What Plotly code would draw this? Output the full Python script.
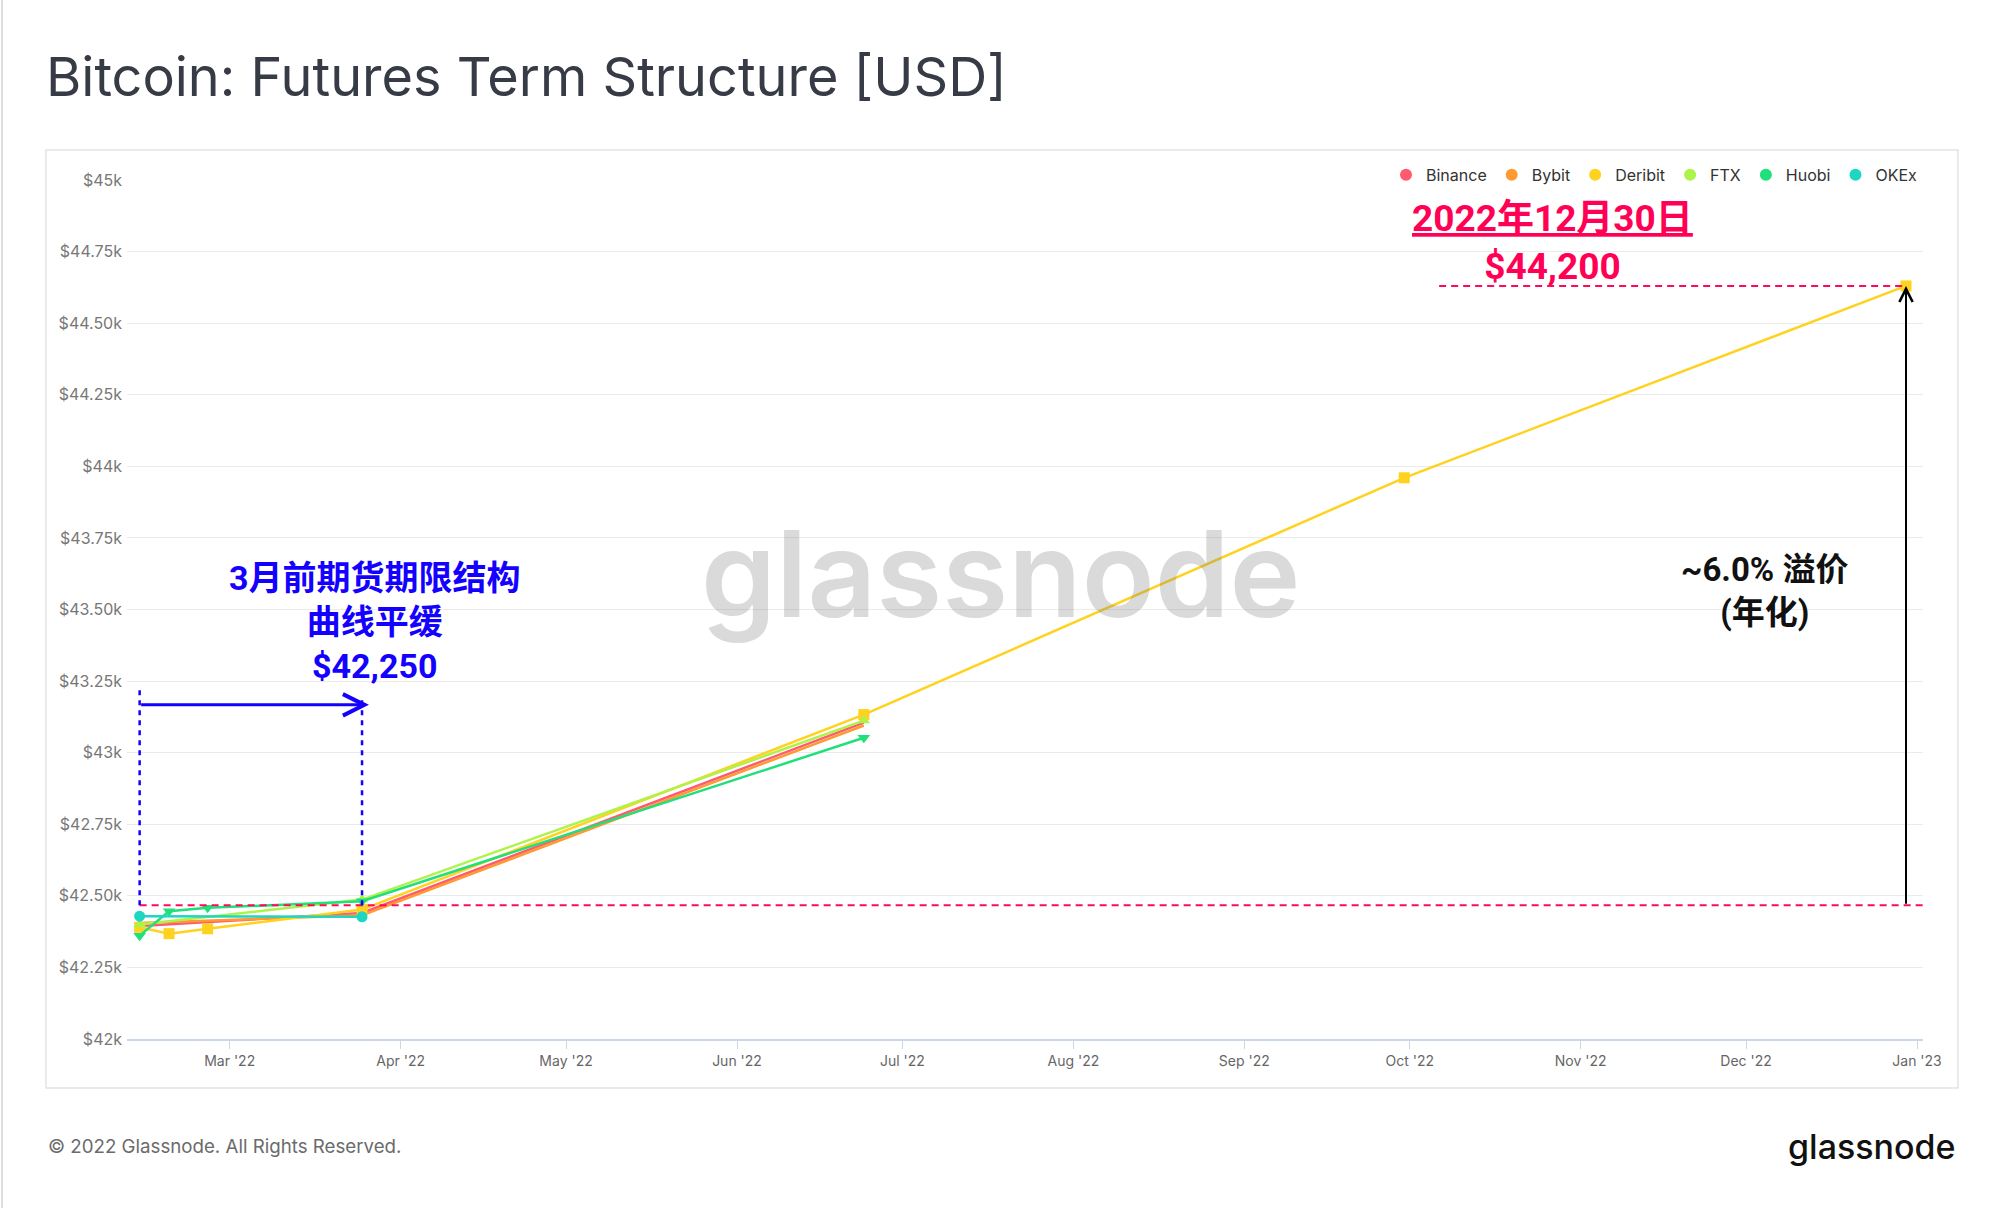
import plotly.graph_objects as go

# ---------------- data ----------------
expiries = ["2022-02-12 16:00", "2022-02-18", "2022-02-25", "2022-03-25",
            "2022-06-24", "2022-09-30", "2022-12-30"]

binance = [42395, None, None, 42440, 43105, None, None]
bybit   = [42405, None, None, 42432, 43095, None, None]
deribit = [42390, 42368, 42385, 42452, 43133, 43960, 44630]
ftx     = [42400, None, None, 42487, 43112, None, None]
huobi   = [42361, 42446, 42458, 42481, 43052, None, None]
okex    = [42429, None, None, 42427, None, None, None]

series_names = ["Binance", "Bybit", "Deribit", "FTX", "Huobi", "OKEx"]
series_vals = [binance, bybit, deribit, ftx, huobi, okex]
series_colors = ["#ff5a6e", "#ff9a33", "#ffd21f", "#aef34a", "#1fe07a", "#1fd6c2"]
series_symbols = [None, None, "square", "triangle-up", "triangle-down", "circle"]

y_tickvals = [42000, 42250, 42500, 42750, 43000, 43250, 43500, 43750,
              44000, 44250, 44500, 44750, 45000]
y_ticktext = ["$42k", "$42.25k", "$42.50k", "$42.75k", "$43k", "$43.25k", "$43.50k",
              "$43.75k", "$44k", "$44.25k", "$44.50k", "$44.75k", "$45k"]

flat_level = 42467       # lower dashed reference level
dec_level = 44630        # Dec 30 price level
blue_top = 43220
blue_arrow_y = 43167

x_range = ["2022-02-10 09:00", "2023-01-02 02:00"]

FONT = "Inter, 'Noto Sans', sans-serif"
BOLD = "Roboto, 'Noto Sans CJK SC', sans-serif"

fig = go.Figure()

for name, vals, col, sym in zip(series_names, series_vals, series_colors, series_symbols):
    xs = [d for d, v in zip(expiries, vals) if v is not None]
    ys = [v for v in vals if v is not None]
    fig.add_trace(go.Scatter(
        x=xs, y=ys, name=name, legendgroup=name, showlegend=False,
        mode="lines+markers" if sym else "lines",
        line=dict(color=col, width=2.5),
        marker=dict(symbol=sym or "circle", size=11, color=col),
    ))

# legend-only entries (dots)
for name, col in zip(series_names, series_colors):
    fig.add_trace(go.Scatter(
        x=[None], y=[None], name=name, legendgroup=name, mode="markers",
        marker=dict(symbol="circle", size=12, color=col), showlegend=True,
    ))

# ---------------- shapes ----------------
red = "#ff0a5a"
blue = "#1400ff"
shapes = [
    dict(type="rect", xref="paper", yref="paper", x0=-0.0451, x1=1.0195, y0=-0.057, y1=1.0349,
         line=dict(color="#e3e3e3", width=1.5), layer="below"),
    dict(type="line", xref="paper", yref="paper", x0=-0.0696, x1=-0.0696, y0=-0.25, y1=1.25,
         line=dict(color="#dedede", width=2)),
    dict(type="line", xref="x", yref="y", x0=expiries[0], x1=x_range[1], y0=flat_level, y1=flat_level,
         line=dict(color=red, width=2, dash="7px,5px")),
    dict(type="line", xref="x", yref="y", x0="2022-10-06 08:00", x1=expiries[-1], y0=dec_level, y1=dec_level,
         line=dict(color=red, width=2, dash="7px,5px")),
    dict(type="line", xref="x", yref="y", x0=expiries[0], x1=expiries[0], y0=flat_level, y1=blue_top,
         line=dict(color=blue, width=2.5, dash="5px,5px")),
    dict(type="line", xref="x", yref="y", x0=expiries[3], x1=expiries[3], y0=flat_level, y1=blue_top - 20,
         line=dict(color=blue, width=2.5, dash="5px,5px")),
]

annotations = [
    dict(x="2022-03-26 06:00", y=blue_arrow_y, ax=expiries[0], ay=blue_arrow_y, xref="x", yref="y",
         axref="x", ayref="y", text="", showarrow=True, arrowhead=5, arrowsize=1.4,
         arrowwidth=3, arrowcolor=blue),
    dict(x=expiries[-1], y=dec_level, ax=expiries[-1], ay=flat_level, xref="x", yref="y",
         axref="x", ayref="y", text="", showarrow=True, arrowhead=5, arrowsize=1.3,
         arrowwidth=2, arrowcolor="#000000"),
    dict(x=0.4866, y=0.542, xref="paper", yref="paper", text="glassnode", showarrow=False,
         font=dict(family=FONT, size=120, color="rgba(120,120,120,0.27)", weight=600)),
    dict(x="2022-03-27 08:00", y=43455, xref="x", yref="y", showarrow=False,
         text="3月前期货期限结构<br>曲线平缓<br>$42,250",
         font=dict(family=BOLD, size=34, color=blue, weight="bold")),
    dict(x="2022-10-26 20:00", y=44782, xref="x", yref="y", showarrow=False,
         text="<u>2022年12月30日</u><br>$44,200",
         font=dict(family=BOLD, size=37, color="#ff0055", weight="bold")),
    dict(x="2022-12-04 10:00", y=43566, xref="x", yref="y", showarrow=False,
         text="~6.0% 溢价<br>(年化)",
         font=dict(family=BOLD, size=33, color="#111111", weight="bold")),
    dict(x=-0.0451, y=-0.1257, xref="paper", yref="paper", xanchor="left", yanchor="middle",
         text="© 2022 Glassnode. All Rights Reserved.", showarrow=False,
         font=dict(family=FONT, size=18.7, color="#6b6b6b")),
    dict(x=1.0195, y=-0.1257, xref="paper", yref="paper", xanchor="right", yanchor="middle",
         text="glassnode", showarrow=False,
         font=dict(family=FONT, size=34, color="#111111", weight=500)),
]

fig.update_layout(
    width=2000, height=1208,
    paper_bgcolor="white", plot_bgcolor="white",
    margin=dict(l=127, r=77, t=180, b=169),
    title=dict(text="Bitcoin: Futures Term Structure [USD]", x=0.023, y=0.936,
               xref="container", yref="container", xanchor="left", yanchor="middle",
               font=dict(family=FONT, size=54, color="#363b45")),
    showlegend=True,
    legend=dict(orientation="h", x=1.0, xanchor="right", y=1.006, yanchor="middle",
                font=dict(family=FONT, size=16, color="#333333"), itemwidth=30,
                bgcolor="rgba(0,0,0,0)"),
    xaxis=dict(type="date", range=x_range, tickformat="%b '%y", dtick="M1", tick0="2022-01-01",
               showgrid=False, zeroline=False, showline=True, linecolor="#ccd6eb", linewidth=2,
               ticks="outside", ticklen=8, tickcolor="#ccd6eb", tickwidth=1,
               tickfont=dict(family=FONT, size=14, color="#666666")),
    yaxis=dict(range=[42000, 45000], tickvals=y_tickvals, ticktext=y_ticktext,
               showgrid=True, gridcolor="#ebebeb", gridwidth=1, zeroline=False,
               showline=False, ticks="", ticklabelstandoff=4,
               tickfont=dict(family=FONT, size=16, color="#777777")),
    shapes=shapes,
    annotations=annotations,
)

fig.write_html("out.html", config={"displayModeBar": False},
               post_script="document.body.style.margin='0';document.body.style.overflow='hidden';")
